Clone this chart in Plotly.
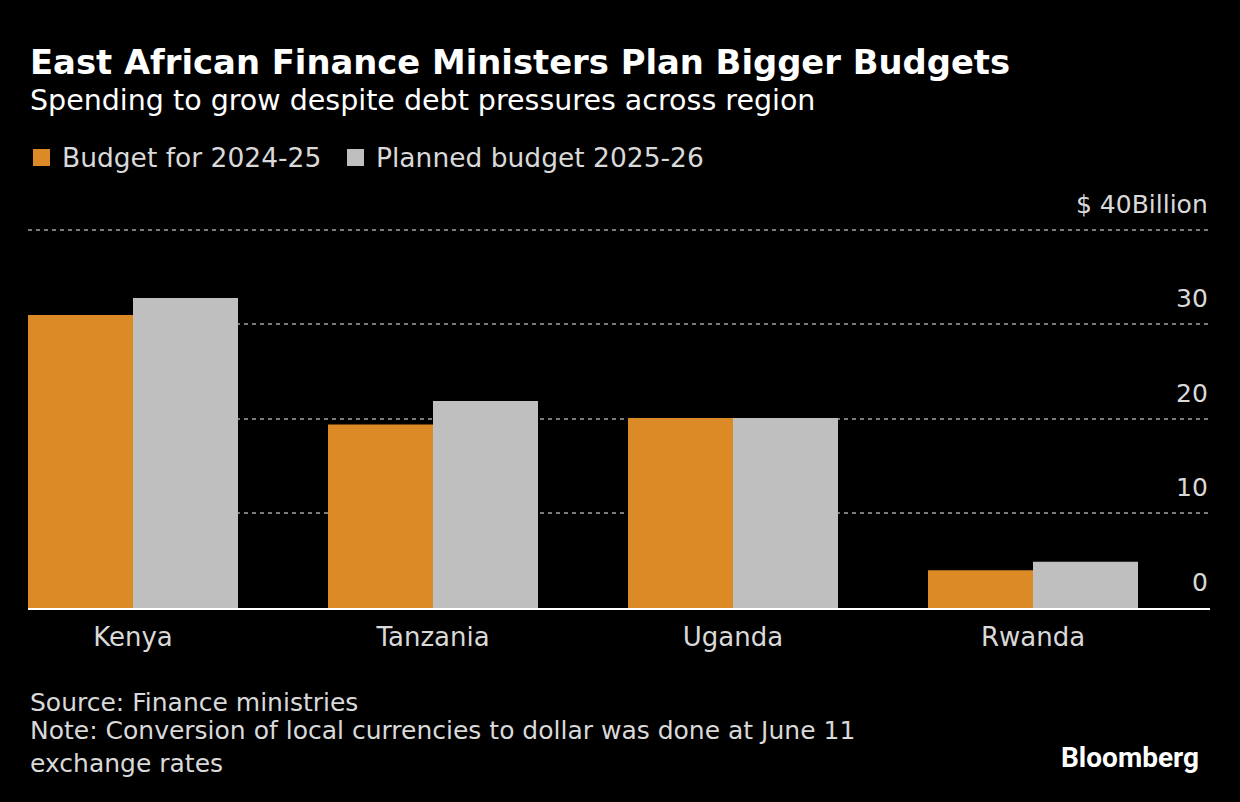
import plotly.graph_objects as go

countries = ["Kenya", "Tanzania", "Uganda", "Rwanda"]
budget_2024_25 = [31.0, 19.4, 20.1, 4.0]
budget_2025_26 = [32.8, 21.9, 20.1, 4.9]
series_names = ["Budget for 2024-25", "Planned budget 2025-26"]
series_colors = ["#DC8A25", "#BFBFBF"]
tick_values = [0, 10, 20, 30, 40]
tick_labels = ["0", "10", "20", "30", "$ 40Billion"]

FONT = "DejaVu Sans, Verdana, sans-serif"
TXT = "#D9D9D9"

W, H = 1240, 802
L, R, T, B = 28, 30, 228, 194
PH = H - T - B
PW = W - L - R


def py(pix):
    return (H - B - pix) / PH


def px(pix):
    return (pix - L) / PW


fig = go.Figure()
for name, vals, col in zip(series_names, [budget_2024_25, budget_2025_26], series_colors):
    fig.add_trace(go.Bar(x=countries, y=vals, name=name,
                         marker=dict(color=col, line=dict(width=0)), showlegend=False))

annotations = []
for v, t in zip(tick_values, tick_labels):
    annotations.append(dict(x=1, xref="paper", xanchor="right", y=v, yref="y",
                            yanchor="bottom", yshift=9, text=t, showarrow=False,
                            font=dict(family=FONT, size=25, color=TXT)))

# manual legend
shapes = []
legend_pos = [(33, 62), (347, 376)]
for (sx, tx), name, col in zip(legend_pos, series_names, series_colors):
    shapes.append(dict(type="rect", xref="paper", yref="paper",
                       x0=px(sx), x1=px(sx + 17), y0=py(166), y1=py(149),
                       fillcolor=col, line=dict(width=0)))
    annotations.append(dict(x=px(tx - 2), y=py(157), xref="paper", yref="paper",
                            xanchor="left", yanchor="middle", text=name, showarrow=False,
                            font=dict(family=FONT, size=26.5, color=TXT)))

annotations += [
    dict(x=px(28), y=py(62), xref="paper", yref="paper", xanchor="left", yanchor="middle",
         text="<b>East African Finance Ministers Plan Bigger Budgets</b>", showarrow=False,
         font=dict(family=FONT, size=33.8, color="white")),
    dict(x=px(28), y=py(101), xref="paper", yref="paper", xanchor="left", yanchor="middle",
         text="Spending to grow despite debt pressures across region", showarrow=False,
         font=dict(family=FONT, size=28.5, color="white")),
    dict(x=px(28), y=py(702), xref="paper", yref="paper", xanchor="left", yanchor="middle",
         text="Source: Finance ministries", showarrow=False,
         font=dict(family=FONT, size=25, color=TXT)),
    dict(x=px(28), y=py(747), xref="paper", yref="paper", xanchor="left", yanchor="middle",
         align="left",
         text="Note: Conversion of local currencies to dollar was done at June 11<br>exchange rates",
         showarrow=False, font=dict(family=FONT, size=25, color=TXT)),
    dict(x=px(1201), y=py(757), xref="paper", yref="paper", xanchor="right", yanchor="middle",
         text="<b>Bloomberg</b>", showarrow=False,
         font=dict(family="Liberation Sans Narrow, Roboto, Arial", size=28, color="white")),
]

fig.update_layout(
    width=W, height=H,
    margin=dict(l=L, r=R, t=T, b=B, pad=0),
    paper_bgcolor="black", plot_bgcolor="black",
    barmode="group", bargap=0.3, bargroupgap=0,
    showlegend=False,
    xaxis=dict(range=[-0.35, 3.59], showgrid=False, showline=True, linecolor="white",
               linewidth=2, ticks="", tickfont=dict(family=FONT, size=26, color=TXT),
               ticklabelstandoff=5, fixedrange=True),
    yaxis=dict(range=[0, 40.2], tickvals=[10, 20, 30, 40], showticklabels=False,
               showgrid=True, gridcolor="#7a7a7a", griddash="4px,4px", gridwidth=1.5,
               zeroline=False, showline=False),
    annotations=annotations,
    shapes=shapes,
)

fig.write_html("out.html")
